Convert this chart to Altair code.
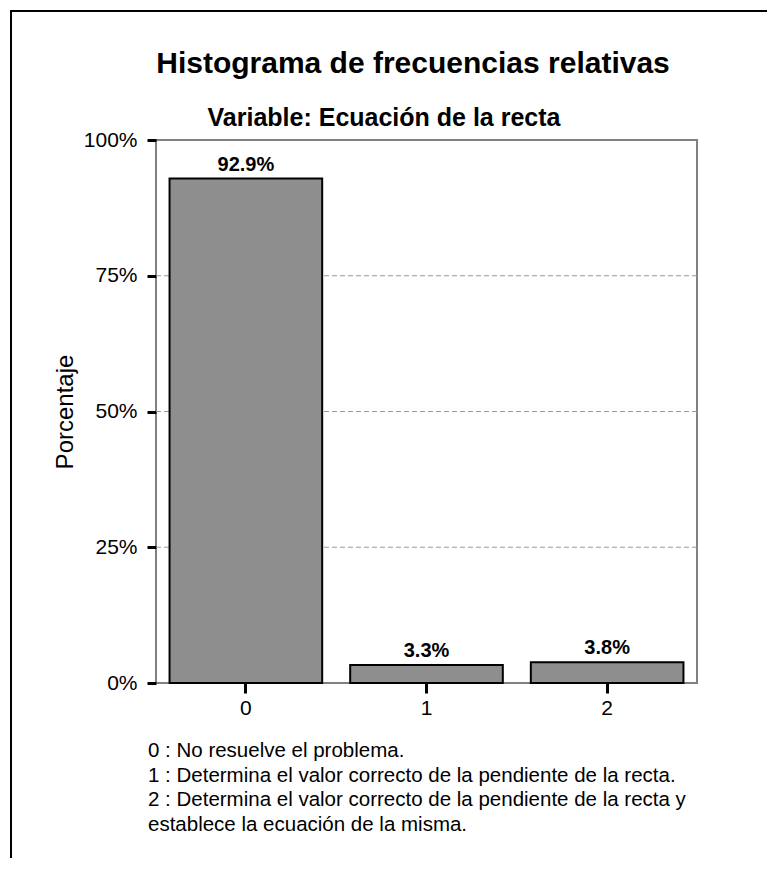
import altair as alt
import pandas as pd

TITLE = "Histograma de frecuencias relativas"
SUBTITLE = "Variable: Ecuación de la recta"
Y_TITLE = "Porcentaje"
CATEGORIES = ["0", "1", "2"]
PERCENTS = [0.929, 0.033, 0.038]
Y_TICKS = [0, 0.25, 0.5, 0.75, 1.0]
GRID_LEVELS = [0.25, 0.5, 0.75]
FOOTNOTES = [
    "0 : No resuelve el problema.",
    "1 : Determina el valor correcto de la pendiente de la recta.",
    "2 : Determina el valor correcto de la pendiente de la recta y",
    "establece la ecuación de la misma.",
]

FONT = "Liberation Sans"

bars_df = pd.DataFrame({"cat": CATEGORIES, "pct": PERCENTS})
grid_df = pd.DataFrame({"pct": GRID_LEVELS})
title_df = pd.DataFrame({"t": [TITLE]})
subtitle_df = pd.DataFrame({"t": [SUBTITLE]})
foot_df = pd.DataFrame({"t": ["\n".join(FOOTNOTES)]})
one_df = pd.DataFrame({"k": [0]})

y_scale = alt.Scale(domain=[0, 1], nice=False, zero=True)

y_axis = alt.Axis(
    values=Y_TICKS, format=".0%", title=Y_TITLE, titleFont=FONT,
    titleFontSize=24, titleFontWeight="normal", titleColor="black",
    titlePadding=6, labelFontSize=21, labelFont=FONT, labelColor="black",
    labelPadding=10, tickSize=9, tickWidth=3, tickColor="black",
    domain=False, grid=False,
)

x_enc = alt.X(
    "cat:N",
    sort=CATEGORIES,
    scale=alt.Scale(paddingInner=0.155, paddingOuter=0.075),
    axis=alt.Axis(
        title=None, labelAngle=0, labelFontSize=21, labelFont=FONT,
        labelColor="black", tickSize=10, tickWidth=3, tickColor="black",
        labelPadding=4, domain=False,
    ),
)
y_enc = alt.Y("pct:Q", scale=y_scale, axis=y_axis)

grid = alt.Chart(grid_df).mark_rule(
    color="#999999", strokeDash=[5, 3], strokeWidth=1
).encode(y=y_enc)

bars = alt.Chart(bars_df).mark_bar(
    color="#8e8e8e", stroke="black", strokeWidth=2
).encode(x=x_enc, y=y_enc)

labels = alt.Chart(bars_df).mark_text(
    font=FONT, fontSize=20, fontWeight="bold", baseline="alphabetic",
    dy=-8, color="black",
).encode(x=alt.X("cat:N", sort=CATEGORIES), y=alt.Y("pct:Q"),
         text=alt.Text("pct:Q", format=".1%"))

title = alt.Chart(title_df).mark_text(
    font=FONT, fontSize=30, fontWeight="bold", align="center",
    baseline="alphabetic", color="black",
).encode(x=alt.value(257), y=alt.value(-67), text="t:N")

subtitle = alt.Chart(subtitle_df).mark_text(
    font=FONT, fontSize=25, fontWeight="bold", align="center",
    baseline="alphabetic", color="black",
).encode(x=alt.value(228), y=alt.value(-14), text="t:N")

foot = alt.Chart(foot_df).mark_text(
    font=FONT, fontSize=20.5, align="left", baseline="alphabetic",
    lineBreak="\n", lineHeight=24.7, color="black",
).encode(x=alt.value(-8), y=alt.value(617), text="t:N")

frame_left = alt.Chart(one_df).mark_rule(color="black", strokeWidth=2).encode(
    x=alt.value(-145), y=alt.value(-130), y2=alt.value(760)
)
frame_top = alt.Chart(one_df).mark_rule(color="black", strokeWidth=2).encode(
    x=alt.value(-146), x2=alt.value(700), y=alt.value(-129)
)

chart = alt.layer(
    grid, bars, labels, title, subtitle, foot, frame_left, frame_top
).properties(
    width=541,
    height=543,
    autosize=alt.AutoSizeParams(type="none"),
    padding={"left": 148, "top": 132, "right": 70, "bottom": 175},
    background="white",
).configure_view(stroke="#808080", strokeWidth=2)

chart.save("out.html", embed_options={"renderer": "svg", "actions": False})
